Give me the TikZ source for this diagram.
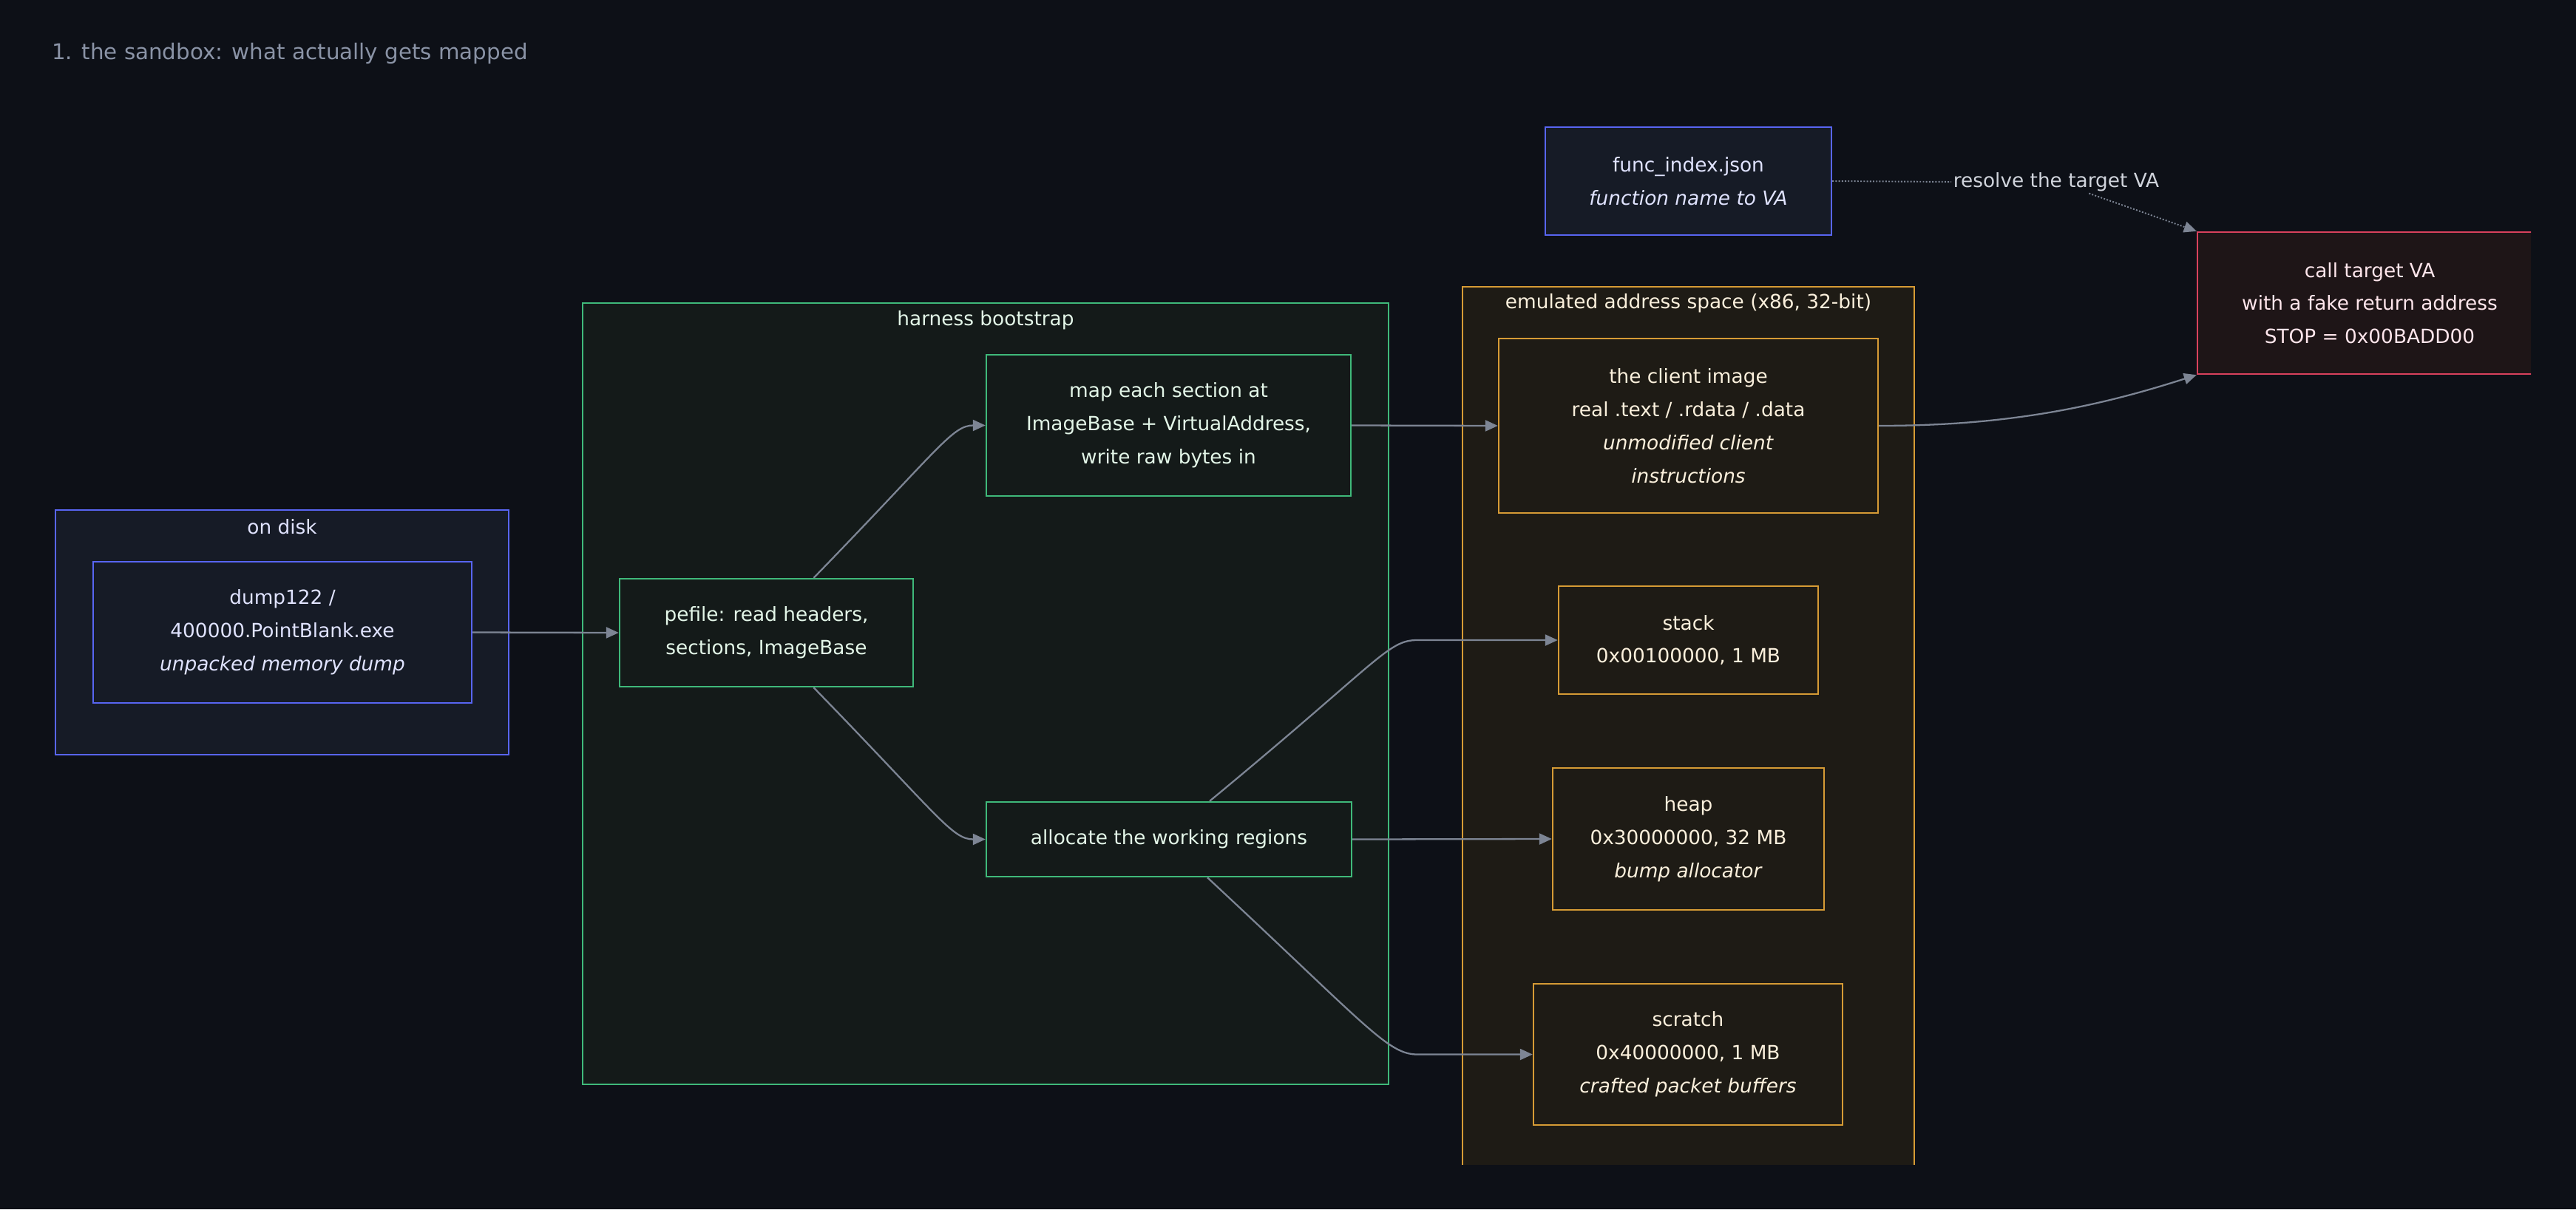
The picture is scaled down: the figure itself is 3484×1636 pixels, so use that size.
\documentclass[tikz,border=0pt]{standalone}
\usepackage{fontspec}
\setmainfont{DejaVu Sans}
\usetikzlibrary{calc,arrows.meta}

\definecolor{bgcol}{HTML}{0D1017}
\definecolor{diskfill}{HTML}{161B26}
\definecolor{diskline}{HTML}{5865F2}
\definecolor{disktext}{HTML}{E0E3FF}
\definecolor{harnfill}{HTML}{141A19}
\definecolor{harnline}{HTML}{3FB97A}
\definecolor{harntext}{HTML}{E3F6E8}
\definecolor{emufill}{HTML}{1E1B15}
\definecolor{emuline}{HTML}{D69B35}
\definecolor{emutext}{HTML}{FBF0DC}
\definecolor{callfill}{HTML}{1E1517}
\definecolor{callline}{HTML}{D9415D}
\definecolor{calltext}{HTML}{FFE6EC}
\definecolor{edgecol}{HTML}{7D8594}
\definecolor{titlecol}{HTML}{8A93A6}
\definecolor{lblcol}{HTML}{D0D4DC}

\begin{document}
\begin{tikzpicture}[x=0.02cm,y=-0.02cm,
  txt/.style={font=\fontsize{15pt}{25.5pt}\selectfont,align=center,inner sep=0pt},
  cluster/.style={txt,draw,line width=0.9pt},
  box/.style={txt,draw,line width=1.4pt},
  disk/.style={fill=diskfill,draw=diskline,text=disktext},
  harn/.style={fill=harnfill,draw=harnline,text=harntext},
  emu/.style={fill=emufill,draw=emuline,text=emutext},
  flow/.style={draw=edgecol,line width=1.3pt,-{Triangle[length=0.34cm,width=0.3cm]}},
  dotflow/.style={flow,line width=1.1pt,dash pattern=on 1.1pt off 1.3pt}]

% page and background
\fill[bgcol] (0,0) rectangle (3484,1636);
\useasboundingbox (0,0) rectangle (3484,1636);

\node[anchor=base west,text=titlecol,font=\fontsize{16.7pt}{20pt}\selectfont] (title) at (64,80) {1. the sandbox: what actually gets mapped};

\begin{scope}
% the diagram is cut at the right and at the bottom
\clip (0,0) rectangle (3423,1575);

% the three groups
\node[cluster,disk,minimum width=12.26cm,minimum height=6.62cm] (disk) at (381.5,855.5) {};
\node[cluster,harn,minimum width=21.8cm,minimum height=21.14cm] (harness) at (1333,938.5) {};
\node[cluster,emu,minimum width=12.22cm,minimum height=24.24cm] (emulated) at (2283.5,994) {};

\node[txt,text=disktext] (disklbl) at ($(disk.north)+(0,23)$) {on disk};
\node[txt,text=harntext] (harnlbl) at ($(harness.north)+(0,24)$) {harness bootstrap};
\node[txt,text=emutext] (emulbl) at ($(emulated.north)+(0,23)$) {emulated address space (x86, 32-bit)};

% boxes
\node[box,disk,minimum width=10.24cm,minimum height=3.82cm] (dump) at (382,855.5)
  {dump122 /\\400000.PointBlank.exe\\\textit{unpacked memory dump}};
\node[box,harn,minimum width=7.94cm,minimum height=2.92cm] (pefile) at (1036.5,856)
  {pefile: read headers,\\sections, ImageBase};
\node[box,harn,minimum width=9.86cm,minimum height=3.82cm] (mapsec) at (1580.5,575.5)
  {map each section at\\ImageBase + VirtualAddress,\\write raw bytes in};
\node[box,harn,minimum width=9.88cm,minimum height=2.02cm] (alloc) at (1581,1135.5)
  {allocate the working regions};
\node[box,emu,minimum width=10.26cm,minimum height=4.72cm] (client) at (2283.5,576)
  {the client image\\real .text / .rdata / .data\\\textit{unmodified client}\\\textit{instructions}};
\node[box,emu,minimum width=7.02cm,minimum height=2.92cm] (stack) at (2283.5,866)
  {stack\\0x00100000, 1 MB};
\node[box,emu,minimum width=7.34cm,minimum height=3.84cm] (heap) at (2283.5,1135)
  {heap\\0x30000000, 32 MB\\\textit{bump allocator}};
\node[box,emu,minimum width=8.36cm,minimum height=3.82cm] (scratch) at (2283,1426.5)
  {scratch\\0x40000000, 1 MB\\\textit{crafted packet buffers}};
\node[box,disk,minimum width=7.74cm,minimum height=2.92cm] (funcidx) at (2283.5,245)
  {func\_index.json\\\textit{function name to VA}};
\node[box,fill=callfill,draw=callline,text=calltext,minimum width=9.32cm,minimum height=3.84cm] (call) at (3205,410)
  {call target VA\\with a fake return address\\STOP = 0x00BADD00};

% connectors
\draw[flow] (dump.east) -- (pefile.west);
\draw[flow] ($(pefile.north)+(64,0)$) .. controls +(170,-175) and +(-45,0) .. (mapsec.west);
\draw[flow] ($(pefile.south)+(64,0)$) .. controls +(170,175) and +(-45,0) .. (alloc.west);
\draw[flow] (mapsec.east) -- (client.west);
\draw[flow] (alloc.east) -- (heap.west);
\draw[flow] ($(alloc.north)+(55,0)$) .. controls +(230,-190) and +(-40,0) .. ($(stack.west)+(-190,0)$) -- (stack.west);
\draw[flow] ($(alloc.south)+(52,0)$) .. controls +(215,200) and +(-40,0) .. ($(scratch.west)+(-156,0)$) -- (scratch.west);
\draw[flow] (client.east) .. controls +(170,0) and +(-140,45) .. (call.south west);

% dotted lookup with its label
\node[txt,text=lblcol,inner sep=0.05cm] (resolve) at (2781,246) {resolve the target VA};
\draw[dotflow,-] (funcidx.east) -- (resolve.west);
\draw[dotflow] (resolve) -- (call.north west);
\end{scope}
\end{tikzpicture}
\end{document}
